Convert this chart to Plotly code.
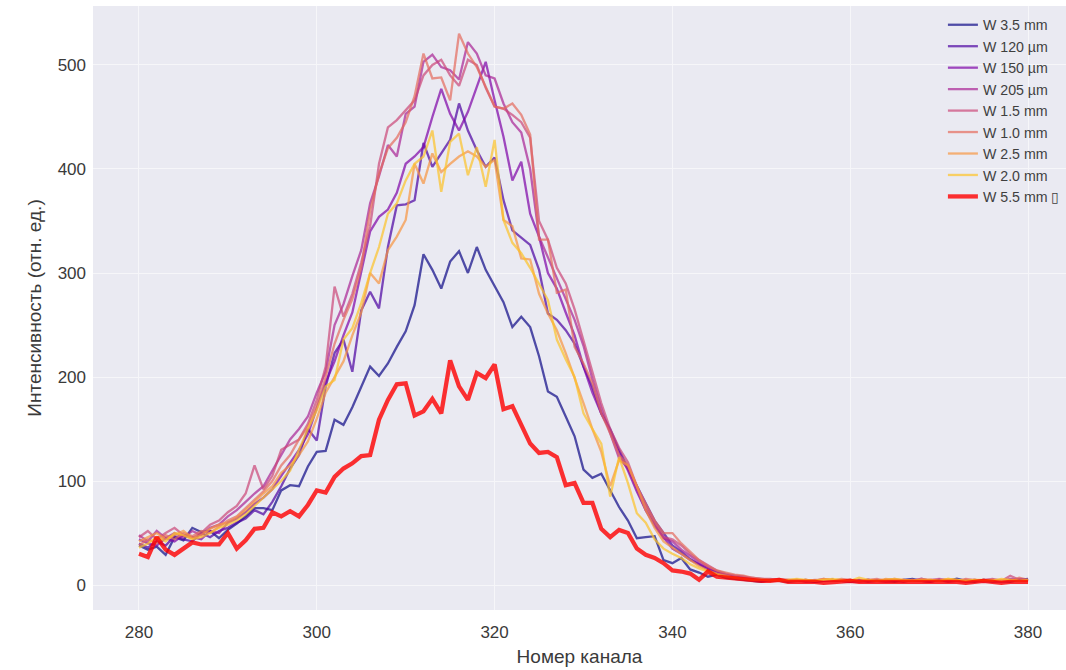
import plotly.graph_objects as go

# Channel numbers (x axis)
channels = list(range(280, 381))

# Intensity per channel for each sample width (relative units)
w_3_5mm = [
    38, 34, 37, 29, 46, 43, 55, 51, 52, 45, 53, 59, 66, 74, 74, 72, 91, 96, 95, 114,
    128, 129, 159, 154, 171, 191, 210, 201, 213, 229, 244, 269, 318, 303, 285, 311, 321, 300, 325, 303,
    288, 272, 248, 258, 248, 220, 186, 181, 162, 143, 111, 103, 107, 91, 75, 62, 45, 46, 47, 24,
    21, 26, 15, 12, 8, 10, 7, 6, 5, 4, 3, 5, 4, 3, 4, 4, 3, 4, 5, 4,
    3, 4, 5, 4, 4, 3, 5, 6, 4, 3, 5, 4, 6, 4, 3, 5, 4, 4, 3, 5, 6,
]
w_120um = [
    40, 36, 42, 38, 47, 44, 42, 50, 46, 52, 55, 60, 64, 72, 68, 80, 95, 112, 125, 150,
    139, 191, 223, 236, 205, 264, 282, 266, 325, 365, 366, 370, 425, 402, 415, 428, 463, 437, 418, 402,
    411, 370, 341, 334, 327, 303, 261, 255, 245, 232, 210, 190, 165, 150, 130, 112, 95, 78, 62, 50,
    38, 32, 25, 20, 15, 12, 9, 7, 6, 5, 5, 4, 5, 4, 4, 5, 3, 4, 5, 4,
    4, 5, 3, 4, 5, 4, 3, 5, 4, 4, 5, 3, 4, 4, 5, 4, 3, 4, 5, 4, 4,
]
w_150um = [
    44, 40, 38, 45, 42, 48, 46, 44, 52, 50, 60, 64, 70, 78, 84, 92, 105, 118, 130, 145,
    170, 195, 215, 240, 262, 300, 340, 354, 361, 377, 405, 412, 421, 450, 477, 453, 437, 455, 479, 503,
    466, 431, 389, 407, 357, 335, 300, 285, 262, 240, 210, 185, 165, 148, 128, 110, 90, 72, 57, 46,
    35, 30, 24, 20, 16, 12, 10, 8, 6, 5, 4, 5, 4, 4, 5, 3, 4, 4, 5, 4,
    3, 4, 5, 4, 3, 4, 5, 4, 4, 3, 5, 4, 4, 3, 4, 5, 4, 3, 4, 6, 5,
]
w_205um = [
    48, 42, 52, 45, 50, 46, 52, 48, 55, 58, 66, 72, 80, 88, 95, 110, 125, 140, 150, 162,
    185, 205, 250, 270, 297, 322, 367, 393, 423, 412, 453, 460, 503, 510, 498, 495, 486, 522, 511, 490,
    487, 463, 445, 435, 400, 335, 315, 295, 275, 255, 230, 198, 170, 145, 122, 112, 92, 72, 58, 45,
    42, 34, 28, 22, 17, 13, 10, 9, 8, 6, 6, 5, 5, 4, 5, 4, 4, 5, 4, 4,
    5, 3, 4, 5, 4, 5, 4, 4, 6, 4, 5, 4, 4, 5, 4, 3, 5, 4, 6, 5, 4,
]
w_1_5mm = [
    46, 52, 44, 50, 55, 48, 45, 50, 58, 62, 70, 76, 88, 115, 92, 105, 130, 135, 140, 155,
    178, 210, 287, 258, 280, 310, 345, 405, 440, 447, 457, 466, 490, 500, 505, 490, 480, 505, 500, 478,
    460, 458, 452, 445, 430, 350, 332, 305, 290, 265, 235, 205, 175, 150, 132, 118, 95, 76, 60, 46,
    44, 38, 30, 24, 19, 14, 11, 9, 8, 7, 6, 6, 5, 5, 4, 5, 4, 6, 5, 4,
    5, 4, 5, 4, 5, 6, 4, 5, 4, 5, 6, 5, 4, 5, 4, 5, 6, 4, 9, 5, 4,
]
w_1_0mm = [
    38, 44, 40, 48, 44, 50, 47, 52, 50, 56, 62, 66, 74, 82, 90, 100, 115, 125, 140, 152,
    172, 200, 232, 255, 275, 305, 360, 395, 420, 430, 445, 470, 511, 487, 488, 466, 530, 511, 498, 479,
    460, 458, 463, 452, 433, 332, 332, 281, 284, 229, 213, 194, 165, 146, 125, 115, 95, 78, 62, 50,
    50, 40, 32, 24, 18, 14, 12, 10, 9, 7, 6, 5, 6, 5, 5, 4, 5, 5, 4, 6,
    5, 4, 5, 6, 4, 5, 5, 4, 6, 5, 4, 5, 4, 6, 5, 4, 5, 5, 4, 7, 5,
]
w_2_5mm = [
    42, 46, 50, 44, 48, 52, 45, 48, 54, 58, 60, 65, 72, 80, 88, 95, 108, 115, 125, 138,
    160, 185, 200, 215, 240, 262, 300, 290, 322, 335, 351, 405, 386, 415, 397, 405, 412, 417, 412, 402,
    409, 351, 345, 314, 313, 280, 261, 245, 223, 200, 175, 150, 128, 95, 120, 115, 95, 72, 55, 42,
    36, 30, 24, 18, 14, 11, 9, 7, 6, 5, 5, 4, 5, 4, 4, 5, 4, 6, 5, 4,
    5, 4, 5, 4, 6, 5, 4, 5, 4, 5, 4, 6, 5, 4, 5, 4, 5, 4, 5, 4, 4,
]
w_2_0mm = [
    36, 40, 46, 42, 50, 48, 44, 46, 50, 55, 58, 62, 68, 76, 84, 92, 100, 110, 130, 150,
    168, 191, 197, 236, 247, 271, 300, 325, 357, 367, 389, 405, 412, 437, 378, 426, 434, 394, 421, 383,
    428, 351, 329, 319, 305, 290, 274, 236, 217, 200, 165, 150, 136, 85, 123, 98, 69, 60, 44, 35,
    30, 26, 20, 16, 13, 10, 8, 7, 6, 5, 5, 5, 4, 5, 6, 5, 4, 5, 6, 5,
    4, 7, 5, 4, 5, 6, 5, 4, 5, 5, 4, 6, 5, 4, 5, 5, 4, 6, 5, 4, 5,
]
w_5_5mm = [
    30, 27, 46, 34, 29, 35, 41, 39, 39, 39, 50, 35, 43, 54, 55, 70, 66, 71, 66, 77,
    91, 89, 104, 112, 117, 124, 125, 159, 178, 193, 194, 163, 167, 179, 165, 216, 191, 178, 204, 199,
    212, 169, 172, 155, 136, 127, 128, 123, 96, 98, 79, 79, 54, 46, 53, 50, 35, 29, 26, 21,
    14, 13, 11, 5, 13, 8, 7, 7, 6, 4, 4, 4, 5, 3, 3, 4, 3, 2, 3, 3,
    4, 3, 3, 4, 3, 4, 3, 3, 4, 3, 4, 3, 3, 2, 3, 4, 3, 2, 3, 3, 3,
]

series_names = [
    "W 3.5 mm", "W 120 µm", "W 150 µm", "W 205 µm", "W 1.5 mm",
    "W 1.0 mm", "W 2.5 mm", "W 2.0 mm", "W 5.5 mm \u25af",
]
series_values = [
    w_3_5mm, w_120um, w_150um, w_205um, w_1_5mm,
    w_1_0mm, w_2_5mm, w_2_0mm, w_5_5mm,
]
# plasma palette samples, last trace highlighted in red
series_colors = [
    "#0d0887", "#4c02a1", "#7e03a8", "#a92395", "#cc4778",
    "#e56b5d", "#f89540", "#fdc328", "#ff0000",
]

x_ticks = [280, 300, 320, 340, 360, 380]
y_ticks = [0, 100, 200, 300, 400, 500]

FONT = "Liberation Sans, Arial, sans-serif"
TEXT = "#3a3a3a"

fig = go.Figure()
for i, (name, vals, col) in enumerate(zip(series_names, series_values, series_colors)):
    highlight = i == len(series_names) - 1
    fig.add_trace(go.Scatter(
        x=channels, y=vals, name=name, mode="lines",
        line=dict(color=col, width=4.3 if highlight else 2.3),
        opacity=0.8 if highlight else 0.7,
    ))

fig.update_layout(
    width=1066, height=670,
    margin=dict(l=93, r=0, t=6, b=60),
    paper_bgcolor="white",
    plot_bgcolor="#eaeaf2",
    font=dict(family=FONT, color=TEXT),
    showlegend=True,
    legend=dict(
        x=0.8735, xanchor="left", y=0.995, yanchor="top",
        bgcolor="rgba(0,0,0,0)", borderwidth=0,
        font=dict(family=FONT, size=14.2, color="#3f3f3f"),
        tracegroupgap=0, itemwidth=30,
    ),
)
fig.update_xaxes(
    range=[274.83, 384.27], tickvals=x_ticks,
    showgrid=True, gridcolor="#f6f6f9", gridwidth=1, zeroline=False,
    showline=False, ticks="", ticklabelstandoff=10,
    tickfont=dict(size=17, color=TEXT),
    title=dict(text="Номер канала", font=dict(size=19, color=TEXT), standoff=8),
)
fig.update_yaxes(
    range=[-24, 556.7], tickvals=y_ticks,
    showgrid=True, gridcolor="#f6f6f9", gridwidth=1, zeroline=False,
    showline=False, ticks="", ticklabelstandoff=6,
    tickfont=dict(size=17, color=TEXT),
    title=dict(text="Интенсивность (отн. ед.)", font=dict(size=19, color=TEXT), standoff=10),
)

fig.write_html("out.html")
